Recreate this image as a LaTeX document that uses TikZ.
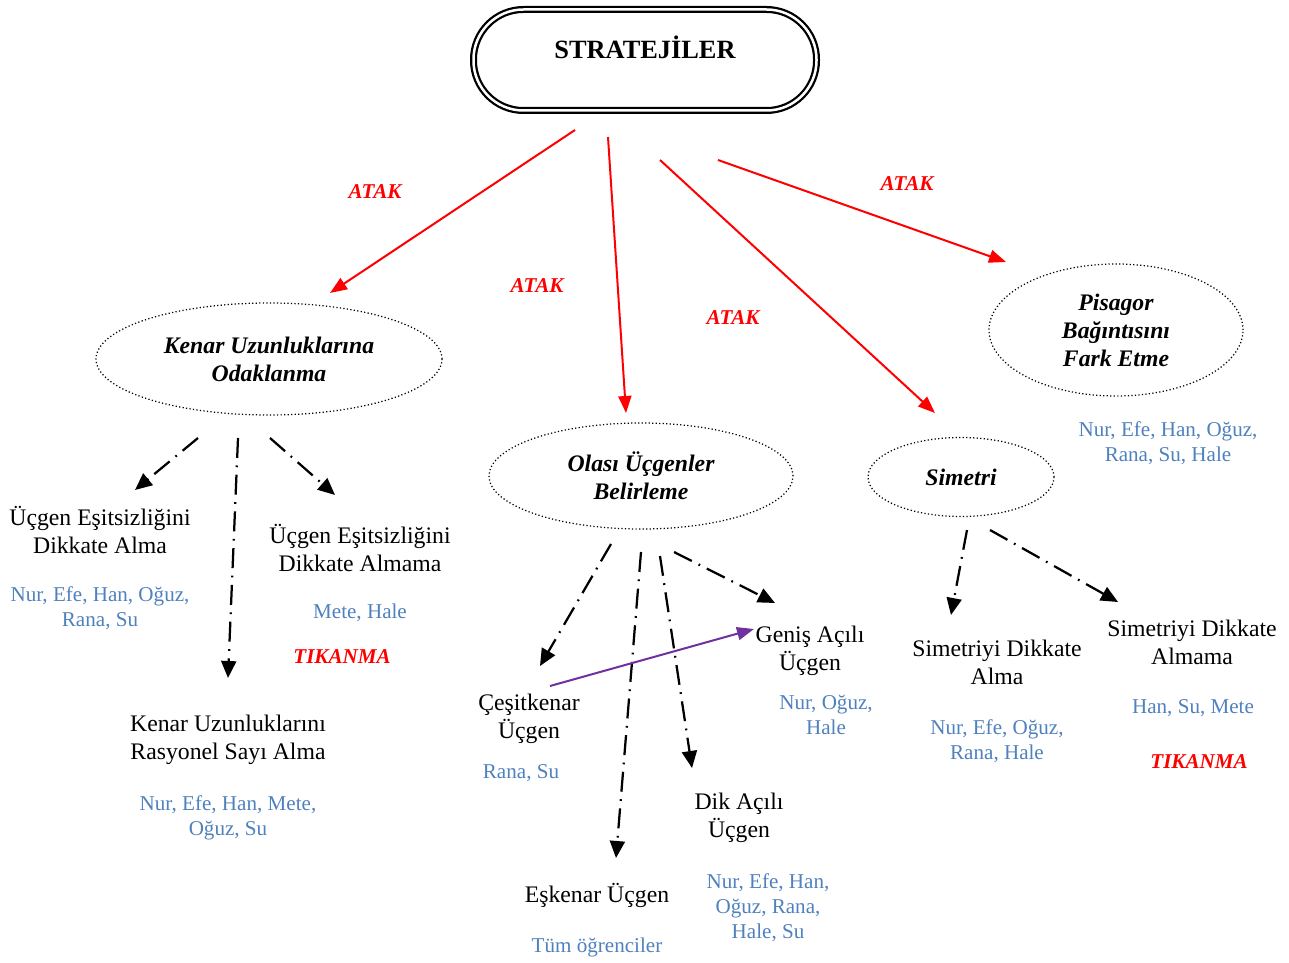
\documentclass[tikz,border=0pt]{standalone}
\usepackage{fontspec}
\setmainfont{Liberation Serif}
\usepackage{xcolor}
\usepackage{tikz}
\usetikzlibrary{arrows.meta}
\usetikzlibrary{shapes.geometric}

\definecolor{namesblue}{RGB}{79,129,189}
\definecolor{linkpurple}{RGB}{112,48,160}

\begin{document}
\begin{tikzpicture}[x=0.2mm, y=-0.2mm,
    oval/.style = {draw, ellipse, line width=0.7pt, dash pattern=on 0.7pt off 1.3pt, inner sep=0pt, align=center, font=\fontsize{13.5pt}{15.9pt}\selectfont\bfseries\itshape},
    leaf/.style = {align=center, inner sep=0pt, font=\fontsize{13.5pt}{15.9pt}\selectfont},
    names/.style = {align=center, inner sep=0pt, text=namesblue, font=\fontsize{12pt}{14.2pt}\selectfont},
    stuck/.style = {inner sep=0pt, text=red, font=\fontsize{12pt}{14pt}\selectfont\bfseries\itshape},
    atk/.style = {draw=red, line width=0.4mm, -{Triangle[length=3.4mm, width=2.6mm]}},
    dd/.style = {line width=0.45mm, dash pattern=on 4mm off 1.5mm on 0.35mm off 1.5mm, -{Triangle[length=3.4mm, width=3mm]}},
    link/.style = {draw=linkpurple, line width=0.4mm, -{Triangle[length=3.4mm, width=2.6mm]}}]

    \useasboundingbox (0,0) rectangle (1289,963);

    % root
    \node [draw, double, line width=0.45mm, double distance=0.5mm, rounded corners=10mm,
           minimum width=68.6mm, minimum height=20.2mm, text height=3.5mm, text depth=4mm,
           font=\fontsize{15pt}{18pt}\selectfont\bfseries] (strat) at (645, 60) {STRATEJİLER};

    % strategies
    \node [oval, minimum width=69.2mm, minimum height=22.4mm] (kenar) at (269, 359) {Kenar Uzunluklarına\\Odaklanma};
    \node [oval, minimum width=60.8mm, minimum height=21.2mm] (olasi) at (641, 476) {Olası Üçgenler\\Belirleme};
    \node [oval, minimum width=37.2mm, minimum height=15.8mm] (sim) at (961, 477) {Simetri};
    \node [oval, minimum width=50.8mm, minimum height=26.4mm] (pis) at (1116, 330) {Pisagor\\Bağıntısını\\Fark Etme};

    \node [stuck] (at1) at (375, 192) {ATAK};
    \node [stuck] (at2) at (537, 286) {ATAK};
    \node [stuck] (at3) at (733, 318) {ATAK};
    \node [stuck] (at4) at (907, 184) {ATAK};

    % sub-strategies
    \node [leaf] (ueA) at (100, 530) {Üçgen Eşitsizliğini\\Dikkate Alma};
    \node [leaf] (ueAm) at (360, 548) {Üçgen Eşitsizliğini\\Dikkate Almama};
    \node [leaf] (rasy) at (228, 740) {Kenar Uzunluklarını\\Rasyonel Sayı Alma};
    \node [leaf] (cesit) at (529, 719) {Çeşitkenar\\Üçgen};
    \node [leaf] (eskenar) at (597, 895) {Eşkenar Üçgen};
    \node [leaf] (dik) at (739, 818) {Dik Açılı\\Üçgen};
    \node [leaf] (genis) at (810, 651) {Geniş Açılı\\Üçgen};
    \node [leaf] (simA) at (997, 662) {Simetriyi Dikkate\\Alma};
    \node [leaf] (simAm) at (1192, 642) {Simetriyi Dikkate\\Almama};

    % students
    \node [names] (n1) at (100, 608) {Nur, Efe, Han, Oğuz,\\Rana, Su};
    \node [names] (n2) at (360, 613) {Mete, Hale};
    \node [names] (n3) at (228, 818) {Nur, Efe, Han, Mete,\\Oğuz, Su};
    \node [names] (n4) at (521, 773) {Rana, Su};
    \node [names] (n5) at (597, 947) {Tüm öğrenciler};
    \node [names] (n6) at (768, 908) {Nur, Efe, Han,\\Oğuz, Rana,\\Hale, Su};
    \node [names] (n7) at (826, 715) {Nur, Oğuz,\\Hale};
    \node [names] (n8) at (997, 741) {Nur, Efe, Oğuz,\\Rana, Hale};
    \node [names] (n9) at (1193, 708) {Han, Su, Mete};
    \node [names] (n10) at (1168, 443) {Nur, Efe, Han, Oğuz,\\Rana, Su, Hale};

    \node [stuck] (tik1) at (342, 657) {TIKANMA};
    \node [stuck] (tik2) at (1199, 762) {TIKANMA};

    % arrow ends
    \coordinate (r1) at (575, 130);  \coordinate (r1e) at (330, 293);
    \coordinate (r2) at (608, 137);  \coordinate (r2e) at (626, 413);
    \coordinate (r3) at (660, 160);  \coordinate (r3e) at (935, 413);
    \coordinate (r4) at (718, 160);  \coordinate (r4e) at (1006, 262);

    \coordinate (k1) at (198, 438);  \coordinate (k1e) at (135, 490);
    \coordinate (k2) at (238, 438);  \coordinate (k2e) at (228, 678);
    \coordinate (k3) at (270, 438);  \coordinate (k3e) at (335, 495);

    \coordinate (o1) at (611, 544);  \coordinate (o1e) at (540, 666);
    \coordinate (o2) at (641, 552);  \coordinate (o2e) at (616, 858);
    \coordinate (o3) at (660, 556);  \coordinate (o3e) at (692, 768);
    \coordinate (o4) at (674, 552);  \coordinate (o4e) at (775, 603);

    \coordinate (s1) at (967, 530);  \coordinate (s1e) at (951, 615);
    \coordinate (s2) at (990, 530);  \coordinate (s2e) at (1118, 602);

    \coordinate (p1) at (550, 686);  \coordinate (p1e) at (754, 629);

    \draw[atk] (r1) to (r1e);
    \draw[atk] (r2) to (r2e);
    \draw[atk] (r3) to (r3e);
    \draw[atk] (r4) to (r4e);

    \draw[dd] (k1) to (k1e);
    \draw[dd] (k2) to (k2e);
    \draw[dd] (k3) to (k3e);

    \draw[dd] (o1) to (o1e);
    \draw[dd] (o2) to (o2e);
    \draw[dd] (o3) to (o3e);
    \draw[dd] (o4) to (o4e);

    \draw[dd] (s1) to (s1e);
    \draw[dd] (s2) to (s2e);

    \draw[link] (p1) to (p1e);

\end{tikzpicture}
\end{document}
